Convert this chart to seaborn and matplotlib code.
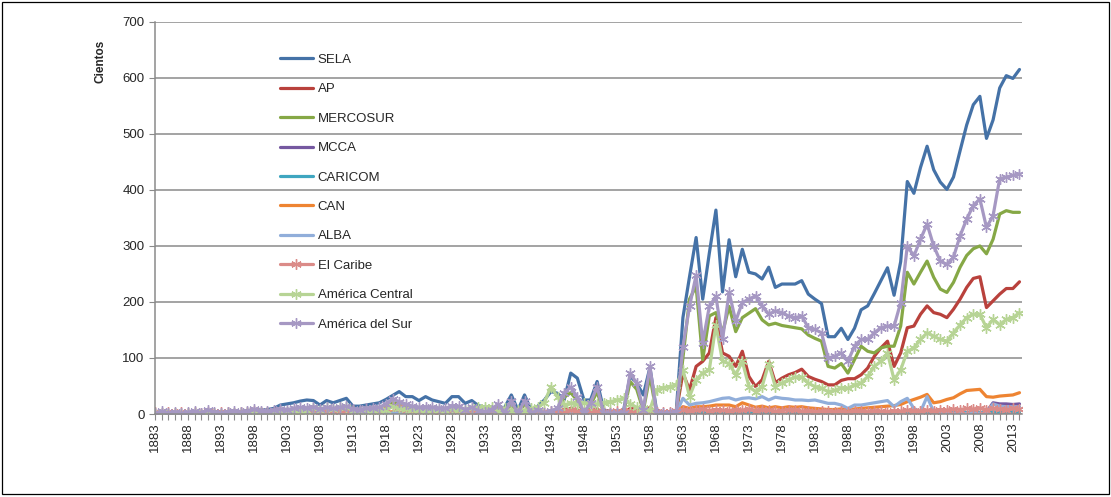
import numpy as np
import pandas as pd
import matplotlib
matplotlib.use("Agg")
import matplotlib.pyplot as plt
import seaborn as sns
from matplotlib.patches import Rectangle

sns.set_theme(style="white")
plt.rcParams["font.family"] = ["Liberation Sans", "DejaVu Sans"]

# Data (cientos), 1883-2014

years = list(range(1883, 2015))

sela = [
    2, 3, 2, 3, 2, 3, 4, 3, 5, 4, 3, 4, 5, 4, 6, 8, 7,
    8, 10, 16, 18, 20, 23, 25, 24, 16, 24,
    20, 24, 28, 14, 14, 16, 18, 20, 26, 33,
    40, 31, 31, 24, 31, 25, 22, 19, 31, 31,
    19, 24, 15, 12, 12, 10, 12, 34, 7, 34,
    7, 14, 25, 40, 37, 25, 73, 64, 25, 25,
    58, 7, 5, 5, 6, 68, 55, 34, 83, 7,
    3, 3, 6, 172, 245, 315, 205, 287, 364, 218,
    311, 245, 294, 253, 250, 241, 262, 226, 232, 232,
    232, 238, 214, 205, 197, 138, 138, 153, 133, 153,
    186, 193, 215, 238, 261, 212, 272, 415, 394, 440,
    478, 436, 414, 401, 423, 470, 516, 552, 567, 492,
    525, 582, 604, 599, 615,
]

ap = [
    0, 1, 0, 1, 0, 1, 1, 0, 2, 1, 0, 1, 1, 1, 1, 2, 1,
    1, 2, 3, 2, 3, 3, 4, 4, 3, 4,
    3, 4, 5, 3, 3, 4, 4, 5, 8, 15,
    22, 10, 6, 5, 6, 5, 4, 4, 6, 5,
    3, 4, 2, 2, 3, 4, 2, 6, 1, 6,
    1, 3, 2, 3, 4, 8, 10, 7, 2, 5,
    9, 1, 1, 1, 1, 10, 8, 2, 12, 1,
    1, 1, 5, 73, 43, 85, 94, 109, 172, 109,
    103, 85, 112, 67, 49, 61, 94, 56, 64, 70,
    74, 80, 67, 62, 58, 52, 52, 60, 63, 63,
    70, 82, 103, 118, 130, 85, 109, 154, 157, 178,
    193, 181, 178, 172, 187, 205, 226, 242, 245, 190,
    202, 214, 224, 224, 236,
]

mercosur = [
    1, 3, 1, 3, 1, 2, 4, 1, 6, 2, 1, 3, 4, 2, 4, 7, 5,
    4, 5, 7, 6, 8, 9, 9, 10, 7, 9,
    8, 9, 11, 7, 6, 8, 9, 10, 14, 20,
    17, 14, 11, 9, 10, 9, 8, 8, 12, 11,
    6, 9, 5, 3, 6, 14, 1, 18, 1, 18,
    1, 6, 1, 4, 8, 30, 38, 24, 1, 16,
    40, 1, 1, 1, 1, 58, 44, 6, 68, 1,
    1, 1, 2, 100, 205, 228, 97, 175, 181, 145,
    192, 147, 172, 180, 188, 168, 159, 162, 158, 156,
    154, 152, 141, 135, 130, 85, 82, 90, 73, 97,
    121, 112, 109, 118, 121, 121, 157, 253, 232, 253,
    273, 244, 223, 217, 235, 262, 283, 295, 300, 286,
    312, 357, 363, 360, 360,
]

mcca = [
    0, 1, 0, 0, 1, 0, 0, 1, 0, 0, 1, 0, 0, 1, 0, 0, 1,
    0, 1, 0, 1, 0, 1, 1, 0, 1, 0,
    1, 0, 1, 1, 0, 1, 0, 1, 1, 2,
    1, 1, 0, 1, 1, 0, 1, 1, 1, 0,
    1, 0, 1, 1, 0, 1, 1, 0, 1, 1,
    1, 1, 2, 1, 1, 2, 1, 1, 2, 1,
    1, 2, 1, 1, 2, 1, 1, 2, 1, 1,
    1, 1, 2, 2, 1, 2, 2, 1, 2, 2,
    2, 1, 2, 2, 1, 2, 1, 2, 1, 1,
    1, 1, 2, 1, 1, 1, 1, 1, 2, 1,
    1, 1, 1, 2, 1, 1, 2, 1, 1, 2,
    1, 2, 1, 2, 2, 1, 2, 2, 1, 4,
    20, 18, 18, 17, 18,
]

caricom = [
    0, 0, 1, 0, 0, 0, 1, 0, 0, 1, 0, 0, 0, 1, 0, 0, 0,
    1, 0, 0, 1, 0, 1, 0, 0, 1, 0,
    0, 1, 0, 0, 1, 0, 1, 0, 0, 1,
    1, 0, 1, 0, 0, 1, 0, 1, 0, 1,
    0, 1, 0, 1, 0, 0, 1, 0, 1, 0,
    1, 0, 1, 0, 1, 1, 0, 1, 0, 1,
    0, 1, 0, 1, 1, 0, 1, 0, 1, 0,
    1, 1, 0, 2, 1, 1, 2, 1, 1, 2,
    1, 2, 1, 1, 2, 1, 1, 2, 1, 1,
    1, 2, 1, 1, 1, 2, 1, 1, 2, 1,
    1, 2, 1, 2, 1, 2, 2, 1, 2, 2,
    2, 3, 2, 3, 3, 2, 3, 4, 3, 3,
    4, 3, 3, 4, 3,
]

can = [
    0, 0, 1, 0, 1, 0, 1, 0, 1, 0, 1, 1, 0, 1, 1, 0, 1,
    1, 1, 2, 1, 2, 1, 2, 2, 1, 2,
    2, 1, 2, 2, 1, 2, 2, 1, 3, 4,
    3, 2, 2, 3, 2, 2, 3, 2, 3, 2,
    2, 3, 2, 2, 3, 2, 2, 3, 2, 3,
    2, 3, 3, 4, 3, 4, 5, 4, 3, 4,
    5, 3, 4, 3, 4, 5, 4, 3, 5, 4,
    3, 4, 5, 13, 10, 13, 13, 14, 16, 16,
    16, 13, 20, 16, 12, 14, 11, 13, 11, 13,
    12, 13, 11, 10, 9, 8, 8, 9, 8, 9,
    10, 11, 12, 13, 14, 15, 17, 22, 26, 30,
    35, 20, 22, 26, 29, 36, 42, 43, 44, 31,
    30, 32, 33, 34, 38,
]

alba = [
    0, 1, 0, 0, 1, 0, 1, 0, 0, 1, 0, 1, 0, 0, 1, 0, 1,
    1, 0, 1, 1, 0, 1, 1, 0, 1, 1,
    1, 1, 0, 1, 1, 1, 0, 1, 1, 2,
    2, 1, 1, 1, 2, 1, 1, 1, 2, 1,
    1, 1, 1, 0, 1, 1, 1, 0, 1, 1,
    1, 1, 1, 2, 1, 2, 2, 1, 1, 2,
    2, 1, 1, 1, 1, 2, 1, 1, 2, 1,
    1, 1, 2, 28, 16, 19, 20, 22, 25, 28,
    29, 25, 28, 29, 27, 31, 25, 30, 28, 27,
    25, 25, 24, 25, 22, 19, 19, 16, 10, 16,
    16, 18, 20, 22, 24, 13, 22, 28, 10, 4,
    31, 4, 2, 2, 1, 2, 1, 2, 1, 2,
    18, 14, 13, 13, 13,
]

el_caribe = [
    3, 2, 4, 2, 3, 1, 4, 2, 3, 2, 4, 3, 2, 4, 3, 5, 3,
    4, 3, 5, 4, 6, 4, 5, 7, 4, 6,
    5, 6, 4, 7, 5, 6, 8, 6, 9, 14,
    12, 8, 6, 5, 7, 5, 4, 6, 8, 5,
    4, 6, 3, 4, 5, 3, 6, 2, 5, 3,
    4, 6, 3, 5, 4, 6, 8, 5, 4, 6,
    5, 3, 4, 5, 4, 6, 5, 3, 6, 4,
    3, 4, 5, 8, 6, 7, 9, 6, 8, 7,
    6, 8, 7, 9, 6, 8, 7, 5, 6, 8,
    7, 5, 6, 4, 5, 6, 4, 5, 3, 6,
    5, 4, 6, 5, 4, 6, 5, 7, 6, 5,
    7, 6, 8, 7, 9, 8, 10, 9, 11, 8,
    10, 9, 8, 10, 9,
]

america_central = [
    0, 1, 0, 1, 0, 1, 1, 0, 1, 1, 0, 1, 1, 1, 1, 2, 1,
    2, 2, 3, 4, 5, 6, 6, 10, 8, 12,
    9, 12, 13, 5, 5, 6, 6, 7, 8, 14,
    10, 9, 8, 8, 8, 7, 7, 6, 9, 8,
    8, 10, 12, 12, 13, 6, 10, 6, 8, 6,
    10, 12, 20, 49, 30, 16, 20, 18, 20, 16,
    18, 20, 22, 25, 28, 18, 12, 10, 8, 43,
    47, 49, 52, 79, 31, 61, 73, 79, 159, 94,
    90, 70, 94, 49, 40, 49, 90, 49, 55, 61,
    66, 66, 55, 49, 46, 40, 42, 47, 46, 52,
    55, 67, 85, 94, 109, 61, 79, 112, 118, 133,
    145, 139, 133, 130, 145, 159, 172, 178, 178, 154,
    169, 159, 169, 172, 181,
]

america_sur = [
    1, 5, 2, 4, 1, 3, 5, 2, 8, 3, 2, 4, 6, 3, 5, 9, 6,
    5, 7, 9, 8, 10, 12, 11, 13, 9, 12,
    10, 12, 14, 9, 8, 10, 11, 12, 18, 27,
    22, 18, 14, 12, 13, 12, 11, 10, 15, 14,
    8, 12, 6, 4, 8, 18, 2, 24, 1, 24,
    1, 8, 2, 6, 10, 38, 48, 30, 2, 20,
    49, 1, 1, 1, 2, 73, 55, 8, 85, 2,
    1, 1, 3, 120, 192, 248, 127, 192, 210, 133,
    217, 166, 199, 205, 211, 193, 178, 184, 181, 175,
    172, 175, 154, 151, 145, 100, 103, 109, 94, 121,
    133, 133, 145, 154, 157, 157, 199, 300, 282, 312,
    339, 300, 273, 267, 280, 318, 348, 372, 384, 333,
    354, 420, 423, 426, 429,
]

series_names = [
    "SELA", "AP", "MERCOSUR", "MCCA", "CARICOM", "CAN", "ALBA",
    "El Caribe", "América Central", "América del Sur",
]
series_values = [
    sela, ap, mercosur, mcca, caricom, can, alba,
    el_caribe, america_central, america_sur,
]
colors = [
    "#4572A7", "#B9413C", "#86A846", "#7558A0", "#3FA6C0", "#EE8432",
    "#91AEDA", "#DB8B88", "#B7D495", "#A698C3",
]
starred = ["El Caribe", "América Central", "América del Sur"]

df = pd.DataFrame({"Año": years})
for name, vals in zip(series_names, series_values):
    df[name] = vals

fig = plt.figure(figsize=(11.11, 4.97), dpi=100)
ax = fig.add_axes([0.1395, 0.167, 0.7805, 0.789])

for name, color in zip(series_names, colors):
    if name in starred:
        sns.lineplot(
            data=df, x="Año", y=name, ax=ax,
            color=color, linewidth=2.3, label=name,
            marker=(6, 2, 0), markersize=7.5,
            markeredgecolor=color, markeredgewidth=1.0,
        )
    else:
        sns.lineplot(
            data=df, x="Año", y=name, ax=ax,
            color=color, linewidth=2.3, label=name,
        )

ax.set_xlim(1883, 2014.4)
ax.set_ylim(0, 700)
ax.set_yticks(range(0, 701, 100))
ax.set_xticks(years[::5])
ax.set_xticks(years, minor=True)
ax.set_xticklabels([str(y) for y in years[::5]], rotation=90)

ax.grid(axis="y", color="#8a8a8a", linewidth=1.1)
ax.set_axisbelow(True)
for side in ["top", "right"]:
    ax.spines[side].set_visible(False)
for side in ["left", "bottom"]:
    ax.spines[side].set_color("#8a8a8a")
    ax.spines[side].set_linewidth(1.1)

ax.tick_params(axis="x", which="both", direction="out", length=4,
               color="#8a8a8a", width=0.8, labelsize=9.5, pad=2,
               bottom=True)
ax.tick_params(axis="y", direction="out", length=4, color="#8a8a8a",
               width=0.8, labelsize=9.5, left=True)

ax.set_xlabel("")
ax.set_ylabel("Cientos", fontsize=8.5, fontweight="bold")
ax.yaxis.set_label_coords(-0.056, 0.9)

ax.legend(
    loc="upper left",
    bbox_to_anchor=(0.138, 0.932),
    frameon=False,
    fontsize=9.5,
    handlelength=2.5,
    handletextpad=0.35,
    labelspacing=1.3,
    borderaxespad=0,
)

fig.patches.append(
    Rectangle((0.002, 0.006), 0.996, 0.99, transform=fig.transFigure,
              fill=False, edgecolor="black", linewidth=0.9)
)

fig.savefig("out.png", dpi=100)
plt.close()
